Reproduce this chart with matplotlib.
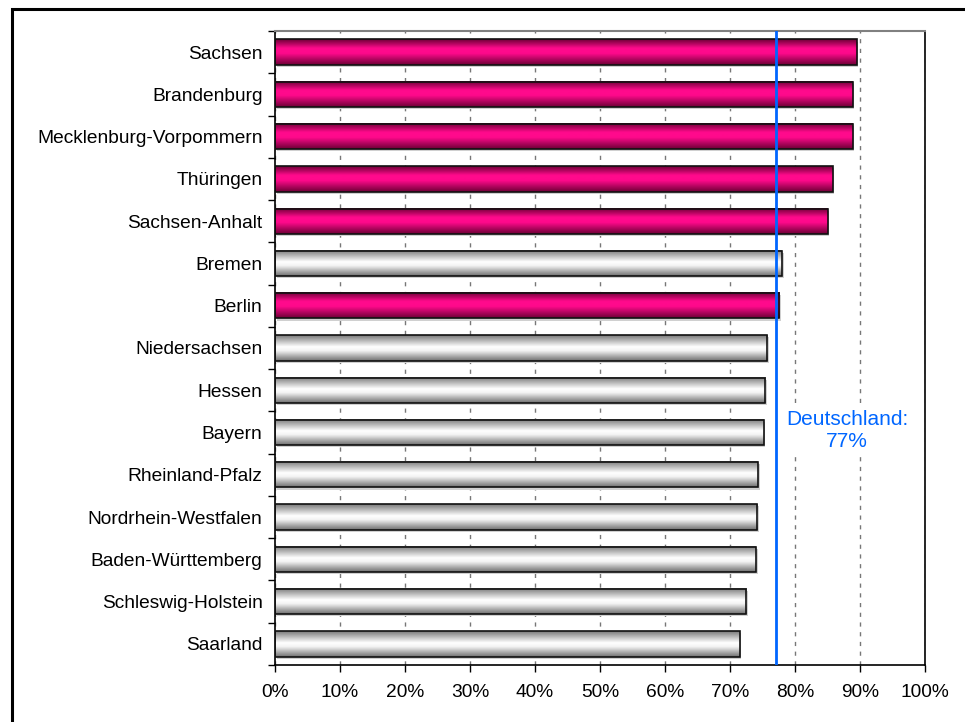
import numpy as np
import matplotlib.pyplot as plt
from matplotlib.colors import LinearSegmentedColormap
from matplotlib.patches import Rectangle

# data, top to bottom
laender = ["Sachsen", "Brandenburg", "Mecklenburg-Vorpommern", "Thüringen",
           "Sachsen-Anhalt", "Bremen", "Berlin", "Niedersachsen", "Hessen",
           "Bayern", "Rheinland-Pfalz", "Nordrhein-Westfalen",
           "Baden-Württemberg", "Schleswig-Holstein", "Saarland"]
anteil = [89.5, 88.9, 88.9, 85.8, 85.0, 78.0, 77.6, 75.7, 75.4, 75.2,
          74.3, 74.2, 74.0, 72.5, 71.5]
ost = [True, True, True, True, True, False, True, False, False, False,
       False, False, False, False, False]
deutschland = 77

plt.rcParams['font.family'] = ['Liberation Sans', 'DejaVu Sans']

pink = LinearSegmentedColormap.from_list(
    "pink", [(0, "#6e0036"), (0.35, "#ff0a8c"), (0.55, "#ff0a8c"), (1, "#6e0036")])
grau = LinearSegmentedColormap.from_list(
    "grau", [(0, "#7a7a7a"), (0.45, "#ffffff"), (0.6, "#f4f4f4"), (1, "#707070")])

fig = plt.figure(figsize=(9.65, 7.22), dpi=100)
ax = fig.add_axes([275 / 965, 1 - 665 / 722, 650 / 965, 634 / 722])

n = len(laender)
y = np.arange(n)[::-1]
h = 0.6
grad = np.linspace(0, 1, 64).reshape(-1, 1)

for yi, v, o in zip(y, anteil, ost):
    cmap = pink if o else grau
    # leichter Schatten
    ax.add_patch(Rectangle((0.25, yi - h / 2 - 0.05), v, h, facecolor="#d0d0d0",
                           edgecolor="none", zorder=1))
    ax.imshow(grad, cmap=cmap, aspect="auto", origin="upper",
              extent=(0, v, yi - h / 2, yi + h / 2), zorder=2)
    ax.add_patch(Rectangle((0, yi - h / 2), v, h, facecolor="none",
                           edgecolor="#111111", linewidth=1.2, zorder=3))

ax.axvline(deutschland, color="#0066ff", linewidth=2, zorder=4)
ax.text(88.0, 5.05, "Deutschland:\n77%", color="#0066ff", fontsize=15,
        ha="center", va="center", linespacing=1.25, zorder=3,
        bbox=dict(facecolor="white", edgecolor="none", pad=2))

ax.set_xlim(0, 100)
ax.set_ylim(-0.5, n - 0.5)
ax.set_xticks(np.arange(0, 101, 10))
ax.set_xticklabels([f"{t}%" for t in range(0, 101, 10)], fontsize=13.8)
ax.set_yticks(y)
ax.set_yticklabels(laender, fontsize=13.8)
ax.set_yticks(np.arange(-0.5, n, 1), minor=True)
ax.tick_params(axis="y", which="major", length=0, pad=9)
ax.tick_params(axis="y", which="minor", length=5, width=1)
ax.tick_params(axis="x", length=5, width=1, pad=9)

ax.grid(axis="x", color="#777777", linestyle=(0, (3, 4)), linewidth=1, zorder=0)
ax.set_axisbelow(True)
for s in ["left", "bottom"]:
    ax.spines[s].set_color("black")
    ax.spines[s].set_linewidth(1.2)
ax.spines["top"].set_color("#808080")
ax.spines["top"].set_linewidth(1.5)
ax.spines["right"].set_color("black")
ax.spines["right"].set_linewidth(1.2)

# aeusserer Rahmen
fig.patches.append(Rectangle((12 / 965, -0.05), 1.1, 1 - 9 / 722 + 0.05,
                             transform=fig.transFigure, fill=False,
                             edgecolor="black", linewidth=2.2))

fig.savefig("out.png", dpi=100)
